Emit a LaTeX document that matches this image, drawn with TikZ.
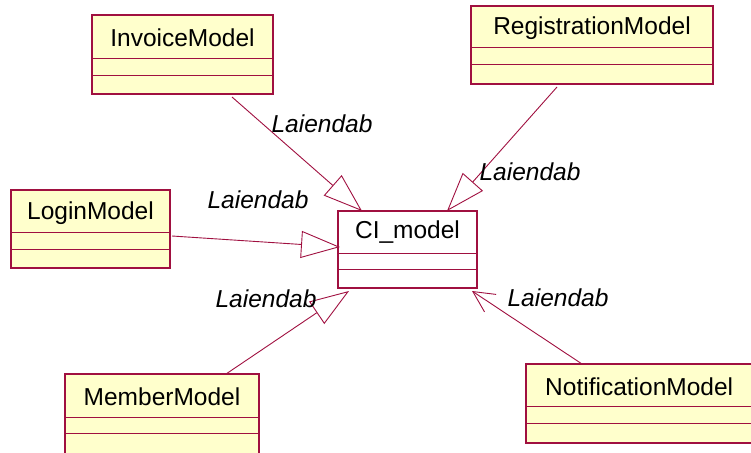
\documentclass[tikz,border=0pt]{standalone}
\usepackage{fontspec}
\setmainfont{Liberation Sans}
\usetikzlibrary{arrows.meta,calc}
\definecolor{umlfill}{RGB}{255,255,204}
\definecolor{umlline}{RGB}{160,16,64}
\tikzset{
  classbox/.style={draw=umlline, line width=1.1pt, fill=umlfill, anchor=north west, inner sep=0pt, outer sep=0pt},
  centerbox/.style={classbox, fill=white},
  classname/.style={font=\fontsize{24.5}{26}\selectfont, inner sep=0pt},
  divider/.style={draw=umlline, line width=1pt},
  rel/.style={draw=umlline, line width=0.9pt},
  gen/.style={rel, -{Triangle[open, length=39pt, width=27pt, line width=0.9pt]}},
  dep/.style={rel, -{Straight Barb[length=21pt, width=21pt, line width=0.9pt]}},
  lbl/.style={font=\fontsize{24.5}{26}\selectfont\itshape, inner sep=0pt}
}
\begin{document}
\begin{tikzpicture}[x=1pt,y=-1pt]
\useasboundingbox (0,0) rectangle (751,452);
\clip (0,0) rectangle (751,452);
% classes
\node[classbox, minimum width=181pt, minimum height=79pt] (inv) at (92,15) {};
\node[classname] (invt) at ($(inv.north)+(0,23)$) {InvoiceModel};
\draw[divider] ($(inv.north west)+(0,43)$) -- ($(inv.north east)+(0,43)$);
\draw[divider] ($(inv.north west)+(0,60)$) -- ($(inv.north east)+(0,60)$);

\node[classbox, minimum width=242pt, minimum height=78pt] (reg) at (471,6) {};
\node[classname] (regt) at ($(reg.north)+(0,22)$) {RegistrationModel};
\draw[divider] ($(reg.north west)+(0,42)$) -- ($(reg.north east)+(0,42)$);
\draw[divider] ($(reg.north west)+(0,58)$) -- ($(reg.north east)+(0,58)$);

\node[classbox, minimum width=159pt, minimum height=78pt] (log) at (11,190) {};
\node[classname] (logt) at ($(log.north)+(0,23)$) {LoginModel};
\draw[divider] ($(log.north west)+(0,42)$) -- ($(log.north east)+(0,42)$);
\draw[divider] ($(log.north west)+(0,59)$) -- ($(log.north east)+(0,59)$);

\node[centerbox, minimum width=139pt, minimum height=77pt] (ci) at (338,211) {};
\node[classname] (cit) at ($(ci.north)+(0,21.5)$) {CI\_model};
\draw[divider] ($(ci.north west)+(0,42)$) -- ($(ci.north east)+(0,42)$);
\draw[divider] ($(ci.north west)+(0,58)$) -- ($(ci.north east)+(0,58)$);

\node[classbox, minimum width=194pt, minimum height=95pt] (mem) at (65,374) {};
\node[classname] (memt) at ($(mem.north)+(0,23)$) {MemberModel};
\draw[divider] ($(mem.north west)+(0,43)$) -- ($(mem.north east)+(0,43)$);
\draw[divider] ($(mem.north west)+(0,59)$) -- ($(mem.north east)+(0,59)$);

\node[classbox, minimum width=240pt, minimum height=79pt] (not) at (526,364) {};
\node[classname, anchor=west] (nott) at ($(not.north west)+(19,22.5)$) {NotificationModel};
\draw[divider] ($(not.north west)+(0,42)$) -- ($(not.north east)+(0,42)$);
\draw[divider] ($(not.north west)+(0,59)$) -- ($(not.north east)+(0,59)$);

% anchor points on the central class
\coordinate (ciA) at ($(ci.north west)+(24,0)$);
\coordinate (ciB) at ($(ci.north west)+(109,0)$);
\coordinate (ciC) at ($(ci.north west)+(2,36)$);
\coordinate (ciD) at ($(ci.south west)+(11,3)$);
\coordinate (ciE) at ($(ci.south west)+(134,3)$);

% connectors
\draw[gen] ($(inv.south west)+(140,3)$) -- (ciA);
\draw[gen] ($(reg.south west)+(86,3)$) -- (ciB);
\draw[gen] ($(log.north east)+(2,46)$) -- (ciC);
\draw[gen] ($(mem.north west)+(161,0)$) -- (ciD);
\draw[dep] ($(not.north west)+(56,0)$) -- (ciE);

% labels
\node[lbl] (l1) at (322,124) {Laiendab};
\node[lbl] (l2) at (530,172) {Laiendab};
\node[lbl] (l3) at (258,200) {Laiendab};
\node[lbl] (l4) at (266,299) {Laiendab};
\node[lbl] (l5) at (558,298) {Laiendab};
\end{tikzpicture}
\end{document}
